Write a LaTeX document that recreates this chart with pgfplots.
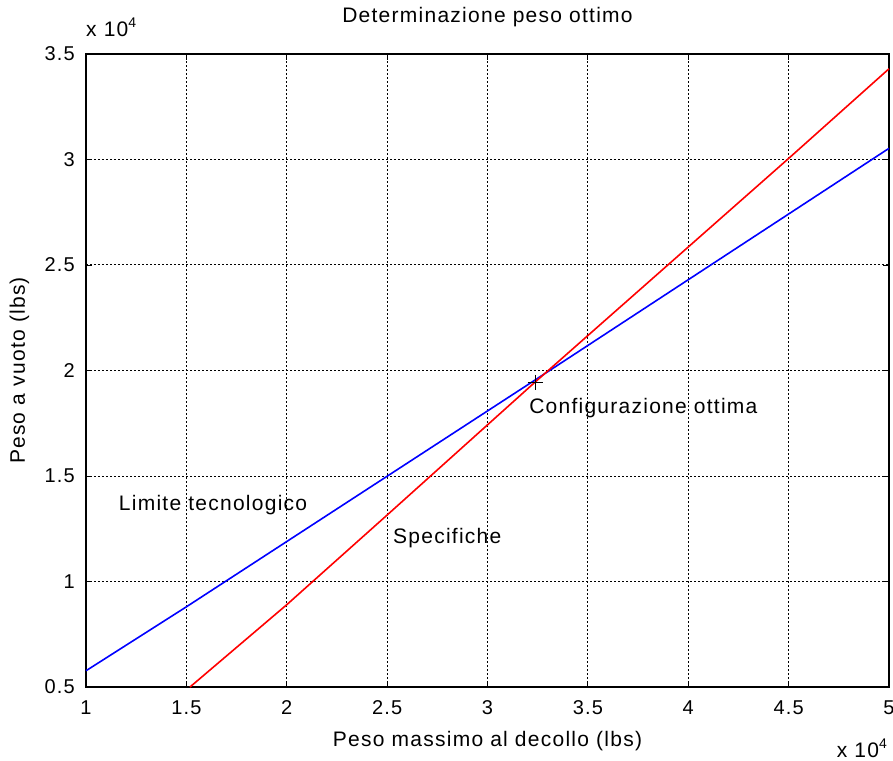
\documentclass[border=0pt]{standalone}
\usepackage{pgfplots}
\pgfplotsset{compat=1.18}
\usepackage{fontspec}
\setmainfont{Liberation Sans}[LetterSpace=6]
\newcommand{\tickfont}{\fontsize{20}{24}\selectfont}
\newcommand{\labfont}{\fontsize{21}{25}\selectfont}
\newcommand{\expo}{x 10\raisebox{9pt}{\fontsize{14}{16}\selectfont 4}}

% Straight-line curves of the weight study (values in units of 10^4 lbs)
\pgfplotstableread{
x      y
1.518  0.500
2.000  0.890
2.500  1.315
3.237  1.945
4.500  3.005
5.000  3.430
}\specifiche
\pgfplotstableread{
x      y
1.000  0.577
1.500  0.880
3.237  1.955
5.000  3.053
}\limite

\begin{document}
\begin{tikzpicture}
\begin{axis}[
  scale only axis, width=803pt, height=633pt,
  xmin=1, xmax=5, ymin=0.5, ymax=3.5,
  xtick={1,1.5,2,2.5,3,3.5,4,4.5,5},
  ytick={0.5,1,1.5,2,2.5,3,3.5},
  /pgf/number format/assume math mode=true,
  ticklabel style={font=\tickfont, inner sep=0pt},
  xticklabel style={anchor=base, yshift=-27pt},
  yticklabel style={anchor=east, xshift=-11pt},
  tick align=inside, major tick length=6pt,
  tick style={black, line width=0.8pt},
  axis line style={line width=1.5pt},
  grid=major,
  major grid style={black, line width=1pt, dash pattern=on 2pt off 2pt},
  title={Determinazione peso ottimo},
  title style={font=\labfont, at={(0.5,1)}, anchor=base, yshift=25pt, inner sep=0pt},
  xlabel={Peso massimo al decollo (lbs)},
  xlabel style={font=\labfont, at={(0.5,0)}, anchor=base, yshift=-59pt, inner sep=0pt},
  ylabel={Peso a vuoto (lbs)},
  ylabel style={font=\labfont, at={([xshift=-61pt]axis description cs:0,0.5)}, anchor=base, inner sep=0pt},
  clip=false,
]
\addplot[blue, line width=1.6pt] table[x=x, y=y] {\limite};
\addplot[red, line width=1.6pt] table[x=x, y=y] {\specifiche};
\addplot[black, only marks, mark=+, mark size=7.5pt, mark options={line width=1.1pt}]
  coordinates {(3.237,1.945)};

\node[anchor=west, inner sep=0pt, font=\labfont] at (axis cs:3.207,1.822) {Configurazione ottima};
\node[anchor=west, inner sep=0pt, font=\labfont] at (axis cs:1.163,1.363) {Limite tecnologico};
\node[anchor=west, inner sep=0pt, font=\labfont] at (axis cs:2.529,1.206) {Specifiche};

\node[anchor=base west, inner sep=0pt, font=\labfont] at ([yshift=17pt]axis description cs:0,1) {\expo};
\node[anchor=base east, inner sep=0pt, font=\labfont] at ([xshift=-2pt, yshift=-70pt]axis description cs:1,0) {\expo};
\end{axis}
\pgfresetboundingbox
\path[use as bounding box] (current axis.south west) ++(-86pt,-73pt) rectangle ++(893pt,760pt);
\end{tikzpicture}
\end{document}
